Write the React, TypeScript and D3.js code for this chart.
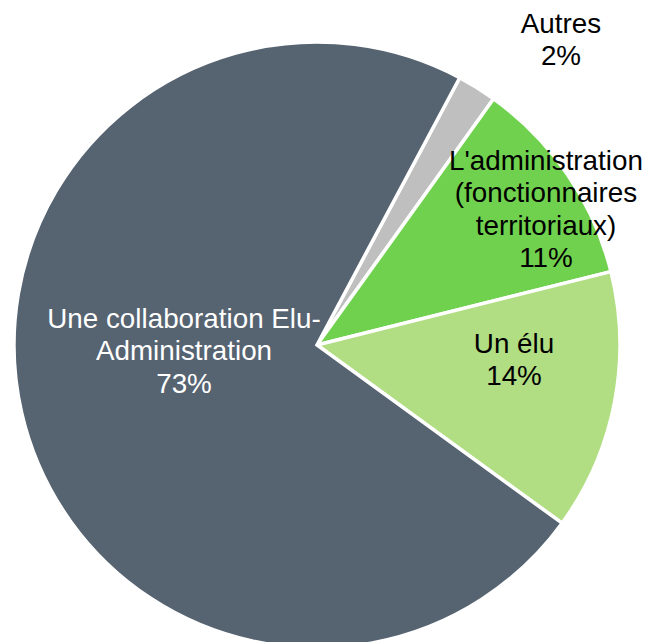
import React from "react";
import * as d3 from "d3";

const categories = ["Autres", "L'administration (fonctionnaires territoriaux)", "Un élu", "Une collaboration Elu-Administration"];
const values = [2.1, 11.2, 13.9, 72.8];
const percentLabels = ["2%", "11%", "14%", "73%"];
const labelLines = [
  ["Autres", "2%"],
  ["L'administration", "(fonctionnaires", "territoriaux)", "11%"],
  ["Un élu", "14%"],
  ["Une collaboration Elu-", "Administration", "73%"],
];
const colors = ["#BFBFBF", "#70D14E", "#B1DD83", "#566371"];
const textColors = ["#000000", "#000000", "#000000", "#FFFFFF"];

const W = 649;
const H = 642;
const cx = 317;
const cy = 345;
const R = 303;
const startDeg = 28.1;
// label anchor (center x, first baseline y)
const labelPos: [number, number][] = [
  [561, 33],
  [546, 170],
  [514, 353],
  [184, 328],
];
const lineH = 32.3;

export default function App() {
  const start = (startDeg * Math.PI) / 180;
  const pie = d3
    .pie<number>()
    .sort(null)
    .value((d) => d)
    .startAngle(start)
    .endAngle(start + 2 * Math.PI);
  const arcs = pie(values);
  const arc = d3.arc<d3.PieArcDatum<number>>().innerRadius(0).outerRadius(R);
  return (
    <svg
      width={W}
      height={H}
      style={{ position: "absolute", left: 0, top: 0, background: "#fff" }}
      fontFamily="'Liberation Sans', Arial, sans-serif"
    >
      <g transform={`translate(${cx},${cy})`}>
        {arcs.map((a, i) => (
          <path
            key={categories[i]}
            d={arc(a) || ""}
            fill={colors[i]}
            stroke="#fff"
            strokeWidth={3.5}
            strokeLinejoin="miter"
          />
        ))}
      </g>
      {labelLines.map((lines, i) => (
        <text
          key={percentLabels[i]}
          x={labelPos[i][0]}
          y={labelPos[i][1]}
          fontSize={27.8}
          textAnchor="middle"
          fill={textColors[i]}
        >
          {lines.map((l, j) => (
            <tspan key={j} x={labelPos[i][0]} y={labelPos[i][1] + j * lineH}>
              {l}
            </tspan>
          ))}
        </text>
      ))}
    </svg>
  );
}
